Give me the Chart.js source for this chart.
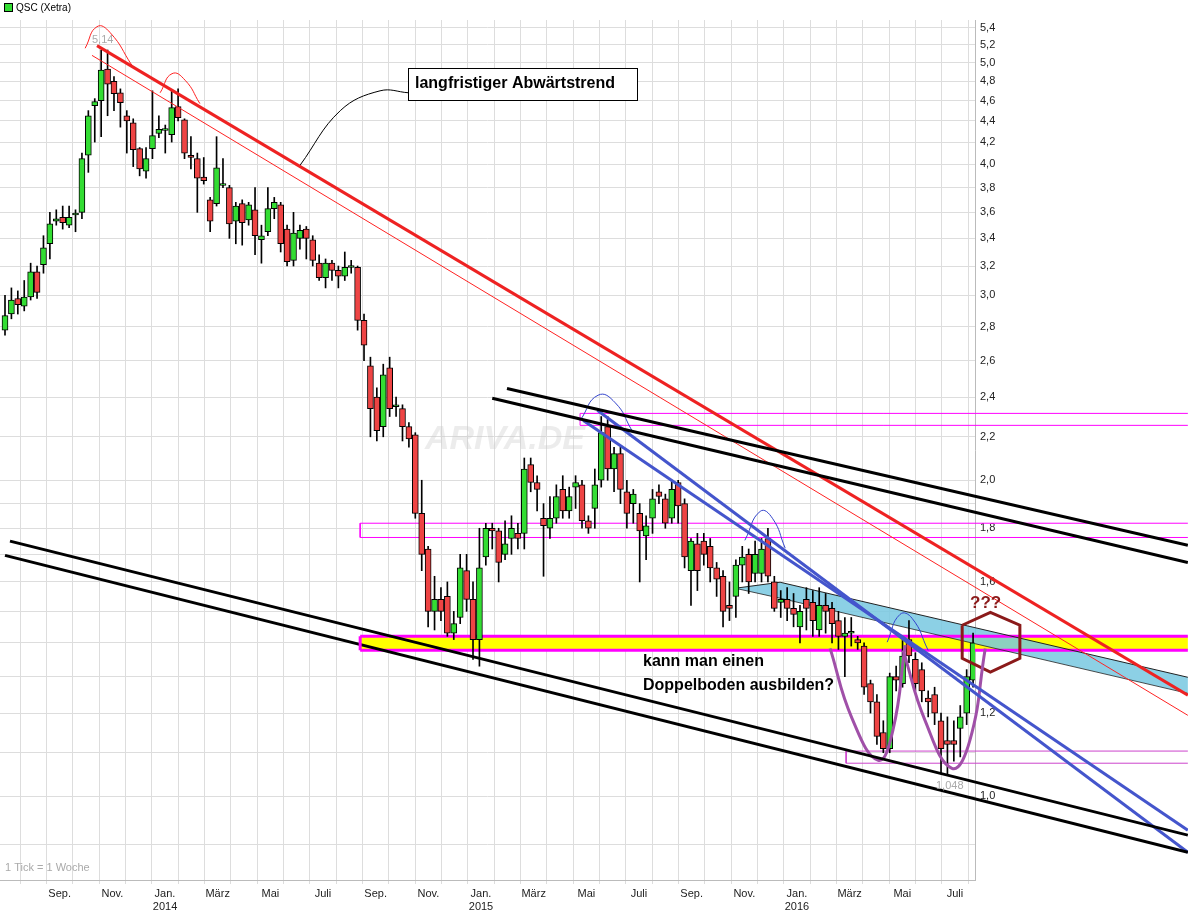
<!DOCTYPE html>
<html><head><meta charset="utf-8">
<script src="https://cdn.jsdelivr.net/npm/chart.js@4.4.0/dist/chart.umd.min.js"></script>
<style>html,body{margin:0;padding:0;background:#fff}#wrap{width:1188px;height:917px;position:relative}</style>
</head><body><div id="wrap"><canvas id="c" width="1188" height="917"></canvas></div>
<script>
// weekly candles QSC (Xetra), Jul 2013 - Jul 2016
const opens = [2.78,2.88,2.98,2.93,2.99,3.16,3.21,3.36,3.53,3.56,3.50,3.58,3.60,4.08,4.55,4.60,4.93,4.80,4.68,4.45,4.38,4.14,3.94,4.14,4.28,4.31,4.27,4.54,4.41,4.08,4.05,3.89,3.70,3.67,3.82,3.80,3.53,3.67,3.54,3.62,3.39,3.45,3.63,3.66,3.47,3.24,3.40,3.47,3.39,3.22,3.12,3.22,3.17,3.13,3.19,3.19,2.84,2.57,2.40,2.25,2.56,2.35,2.34,2.25,2.21,1.86,1.72,1.50,1.54,1.55,1.43,1.48,1.64,1.54,1.41,1.69,1.80,1.79,1.70,1.76,1.78,1.78,2.07,1.99,1.84,1.80,1.84,1.96,1.87,1.97,1.98,1.83,1.88,2.00,2.25,2.05,2.12,1.95,1.90,1.86,1.77,1.84,1.95,1.92,1.84,1.99,1.90,1.64,1.74,1.75,1.73,1.65,1.62,1.52,1.55,1.66,1.70,1.63,1.63,1.76,1.60,1.53,1.54,1.51,1.45,1.54,1.53,1.44,1.52,1.51,1.47,1.42,1.43,1.41,1.39,1.28,1.23,1.15,1.11,1.30,1.28,1.41,1.35,1.32,1.24,1.25,1.18,1.13,1.13,1.16,1.20,1.29];
const closes = [2.87,2.97,2.94,2.99,3.16,3.02,3.33,3.51,3.55,3.52,3.56,3.58,4.05,4.45,4.59,4.92,4.77,4.67,4.58,4.40,4.13,3.96,4.05,4.26,4.32,4.31,4.53,4.43,4.10,4.06,3.88,3.86,3.53,3.97,3.82,3.51,3.65,3.52,3.66,3.42,3.42,3.63,3.68,3.36,3.23,3.44,3.46,3.40,3.24,3.12,3.22,3.17,3.13,3.19,3.19,2.84,2.69,2.34,2.23,2.52,2.34,2.36,2.25,2.19,1.86,1.70,1.50,1.54,1.50,1.43,1.46,1.65,1.54,1.41,1.65,1.80,1.79,1.67,1.74,1.80,1.76,2.05,1.99,1.96,1.81,1.84,1.93,1.87,1.93,1.99,1.83,1.80,1.98,2.22,2.05,2.12,1.96,1.86,1.94,1.79,1.81,1.92,1.93,1.82,1.96,1.89,1.69,1.75,1.64,1.70,1.65,1.61,1.50,1.51,1.66,1.69,1.60,1.70,1.72,1.62,1.51,1.54,1.51,1.49,1.50,1.51,1.47,1.52,1.50,1.46,1.42,1.43,1.43,1.40,1.27,1.23,1.14,1.11,1.30,1.29,1.36,1.36,1.28,1.26,1.23,1.20,1.11,1.12,1.12,1.19,1.30,1.40];
const highs = [3.00,3.05,3.03,3.10,3.22,3.20,3.42,3.60,3.62,3.65,3.65,3.62,4.10,4.50,4.62,5.14,5.14,4.85,4.72,4.50,4.42,4.15,4.15,4.70,4.45,4.36,4.70,4.72,4.42,4.25,4.10,4.06,3.72,4.25,4.05,3.82,3.68,3.70,3.68,3.80,3.50,3.80,3.72,3.68,3.50,3.60,3.50,3.49,3.42,3.28,3.25,3.24,3.20,3.30,3.24,3.20,2.88,2.62,2.45,2.58,2.62,2.40,2.36,2.27,2.22,2.00,1.73,1.62,1.58,1.60,1.50,1.70,1.70,1.60,1.80,1.82,1.82,1.80,1.83,1.85,1.82,2.10,2.10,2.02,1.90,1.93,1.98,2.02,1.97,2.02,2.00,1.85,2.05,2.30,2.30,2.15,2.15,2.00,1.96,1.90,1.85,1.96,1.98,1.94,2.00,2.00,1.92,1.76,1.78,1.78,1.76,1.67,1.64,1.60,1.68,1.73,1.72,1.75,1.76,1.80,1.62,1.57,1.58,1.56,1.52,1.58,1.57,1.58,1.56,1.53,1.50,1.48,1.48,1.42,1.40,1.29,1.25,1.18,1.31,1.33,1.41,1.47,1.37,1.34,1.26,1.27,1.20,1.19,1.18,1.22,1.32,1.43];
const lows = [2.75,2.85,2.88,2.90,2.97,2.98,3.15,3.25,3.50,3.47,3.48,3.45,3.55,3.93,4.20,4.25,4.45,4.50,4.34,4.10,3.98,3.90,3.88,4.05,4.24,4.10,4.20,4.40,4.05,3.96,3.60,3.83,3.45,3.65,3.80,3.40,3.36,3.35,3.50,3.28,3.22,3.42,3.55,3.30,3.20,3.20,3.32,3.25,3.20,3.10,3.05,3.10,3.05,3.10,3.15,2.78,2.60,2.20,2.18,2.20,2.30,2.30,2.18,2.15,1.84,1.64,1.45,1.44,1.47,1.42,1.41,1.46,1.50,1.35,1.33,1.66,1.72,1.60,1.68,1.70,1.72,1.72,1.95,1.87,1.62,1.76,1.82,1.84,1.84,1.88,1.80,1.78,1.80,1.97,2.00,1.95,1.90,1.80,1.82,1.60,1.68,1.78,1.90,1.80,1.82,1.82,1.65,1.52,1.57,1.66,1.60,1.55,1.45,1.47,1.48,1.60,1.56,1.60,1.60,1.60,1.50,1.48,1.47,1.45,1.40,1.44,1.42,1.42,1.43,1.40,1.38,1.30,1.39,1.38,1.25,1.20,1.12,1.10,1.10,1.26,1.27,1.34,1.26,1.23,1.19,1.17,1.05,1.048,1.08,1.09,1.17,1.27];

// y axis tick values
const yTickValues = [0.9,1.0,1.1,1.2,1.3,1.4,1.5,1.6,1.7,1.8,1.9,2.0,2.2,2.4,2.6,2.8,3.0,3.2,3.4,3.6,3.8,4.0,4.2,4.4,4.6,4.8,5.0,5.2,5.4];
// months from Jan 2014 (negative = 2013)
const monthOffsets = [-6,-5,-4,-3,-2,-1,0,1,2,3,4,5,6,7,8,9,10,11,12,13,14,15,16,17,18,19,20,21,22,23,24,25,26,27,28,29,30];
const monthNames = ["Jan.","Feb.","März","Apr.","Mai","Juni","Juli","Aug.","Sep.","Okt.","Nov.","Dez."];

// drawn annotations (x = week index, y = price)
const redThick = [[14.35,5.19],[184.5,1.248]];
const redThin = [[13.57,5.08],[184.5,1.194]];
const redArc1 = [[12.5,5.16],[14.35,5.41],[16.4,5.34],[19.8,4.97]];
const redArc2 = [[24.2,4.68],[26.05,4.88],[28.1,4.81],[30.4,4.57]];
const blueArc1 = [[89.7,2.28],[92.5,2.41],[95.2,2.37],[97.8,2.23]];
const blueArc2 = [[115.4,1.753],[117.8,1.868],[119.7,1.84],[121.7,1.723]];
const blueArc3 = [[137.6,1.402],[139.6,1.49],[141.5,1.477],[144.0,1.377]];
const blackA = [[78.3,2.446],[184.5,1.734]];
const blackB = [[76.0,2.394],[184.5,1.67]];
const blackC = [[0.78,1.75],[184.5,0.918]];
const blackD = [[0,1.696],[184.5,0.884]];
const blueE = [[92.4,2.332],[184.5,0.884]];
const blueF = [[90.2,2.28],[184.5,0.928]];
const cyanPoly = [[113.9,1.578],[120.9,1.599],[184.5,1.298],[184.5,1.253],[120.9,1.544]];
const cyanTop = [[113.9,1.578],[120.9,1.599],[184.5,1.298]];
const cyanBottom = [[113.9,1.578],[120.9,1.544],[184.5,1.253]];
const yellowPoly = [[55.4,1.42],[184.5,1.42],[184.5,1.377],[55.4,1.377]];
const yellowTop = [[55.4,1.42],[184.5,1.42]];
const yellowBottom = [[55.4,1.377],[184.5,1.377]];
const yellowLeft = [[55.4,1.42],[55.4,1.377]];
const rect1 = [[184.5,1.82],[55.4,1.82],[55.4,1.764],[184.5,1.764]];
const rect2 = [[184.5,2.256],[89.7,2.256],[89.7,2.316],[184.5,2.316]];
const rect3 = [[184.5,1.104],[131.2,1.104],[131.2,1.075],[184.5,1.075]];
const purpleU1 = [[128.7,1.383],[132.1,1.187],[136.2,1.082],[138.5,1.156],[140.4,1.393]];
const purpleU2 = [[140.1,1.377],[143.5,1.181],[147.7,1.063],[150.5,1.13],[152.9,1.383]];
const hexagon = [[149.3,1.455],[153.7,1.497],[158.3,1.455],[158.3,1.353],[153.7,1.313],[149.3,1.353],[149.3,1.455]];
const connector = [[46.0,3.99],[52.3,4.5],[58.5,4.7],[62.9,4.68]];

const PXW = 151/968; // week index per pixel
const monthIdx = m => (160 + m*26.33) * PXW;
const pts = a => a.map(p => ({x:p[0], y:p[1]}));
function line(data, color, width, extra){
  return Object.assign({type:'line', data:pts(data), borderColor:color, borderWidth:width,
    pointRadius:0, fill:false, clip:false, order:1, tension:0}, extra||{});
}
const idx = opens.map((_,i)=>i);
const up = opens.map((o,i)=>closes[i]>=o);
const datasets = [
  {type:'bar', data: idx.map(i=>({x:i, y:[lows[i],highs[i]]})), backgroundColor:'#000', barThickness:1, order:10, grouped:false},
  {type:'bar', data: idx.map(i=>({x:i, y:[opens[i], closes[i]===opens[i]?opens[i]*1.004:closes[i]]})),
    backgroundColor: idx.map(i=>up[i]?'#33dd33':'#ee4444'), borderColor:'#000', borderWidth:1, borderSkipped:false,
    barThickness:6, order:9, grouped:false},
  line(cyanTop,'#222',1,{order:20}),
  line(cyanBottom,'#222',0.8,{order:20}),
  line(yellowTop,'#ff00ff',3,{order:21}),
  line(yellowBottom,'#ff00ff',3,{order:21}),
  line(yellowLeft,'#ff00ff',3,{order:1}),
  line(rect1,'#ff00ff',1,{order:15}),
  line(rect2,'#ff00ff',1,{order:15}),
  line(rect3,'#cc44cc',1,{order:15}),
  line(blackA,'#000',3), line(blackB,'#000',3), line(blackC,'#000',3), line(blackD,'#000',3),
  line(blueE,'#4455cc',3), line(blueF,'#4455cc',3),
  line(redThin,'#ff2222',1), line(redThick,'#ee2222',3),
  line(redArc1,'#ff2222',1,{tension:0.5}), line(redArc2,'#ff2222',1,{tension:0.5}),
  line(blueArc1,'#3344cc',1,{tension:0.5}), line(blueArc2,'#3344cc',1,{tension:0.5}), line(blueArc3,'#3344cc',1,{tension:0.5}),
  line(purpleU1,'#a050a8',3,{tension:0.45}), line(purpleU2,'#a050a8',3,{tension:0.45}),
  line(hexagon,'#8b1a1a',3),
  line(connector,'#000',1,{tension:0.4})
];

const fillPlugin = {
  id:'fills',
  beforeDatasetsDraw(chart){
    const g = chart.ctx, xs = chart.scales.x, ys = chart.scales.y;
    const poly = (a, col) => { g.beginPath(); a.forEach((p,i)=>{ const X=xs.getPixelForValue(p[0]), Y=ys.getPixelForValue(p[1]); i?g.lineTo(X,Y):g.moveTo(X,Y); }); g.closePath(); g.fillStyle=col; g.fill(); };
    g.save(); poly(yellowPoly,'#ffff00'); poly(cyanPoly,'rgba(120,200,225,0.85)'); g.restore();
  }
};

const textPlugin = {
  id:'texts',
  afterDatasetsDraw(chart){
    const g = chart.ctx; g.save();
    g.fillStyle='#33dd33'; g.fillRect(4,3,8,8); g.strokeStyle='#000'; g.lineWidth=1; g.strokeRect(4.5,3.5,8,8);
    g.fillStyle='#000'; g.font='10px "Liberation Sans", Arial'; g.textBaseline='middle'; g.fillText('QSC (Xetra)',16,8);
    g.font='italic bold 34px "Liberation Sans", Arial'; g.fillStyle='rgba(200,200,200,0.35)'; g.fillText('ARIVA.DE',425,440);
    g.font='11px "Liberation Sans", Arial'; g.fillStyle='#aaa';
    g.fillText('5,14',92,40); g.fillText('1,048',936,786);
    g.fillText('1 Tick = 1 Woche',5,868);
    g.fillStyle='#fff'; g.fillRect(408,68,229,32); g.strokeStyle='#000'; g.strokeRect(408.5,68.5,229,32);
    g.fillStyle='#000'; g.font='bold 16px "Liberation Sans", Arial'; g.fillText('langfristiger Abwärtstrend',415,84);
    g.fillText('kann man einen',643,662); g.fillText('Doppelboden ausbilden?',643,686);
    g.fillStyle='#8b1a1a'; g.font='bold 17px "Liberation Sans", Arial'; g.fillText('???',970,603);
    g.restore();
  }
};

new Chart(document.getElementById('c'), {
  data:{datasets},
  options:{
    responsive:false, animation:false,
    layout:{padding:{top:20,left:0,right:0,bottom:0}},
    plugins:{legend:{display:false}, tooltip:{enabled:false}},
    scales:{
      x:{type:'linear', min:-0.78, max:151.3, offset:false,
        afterBuildTicks: s => { s.ticks = monthOffsets.map(m=>({value:monthIdx(m), m})); },
        afterFit: s => { s.height = 37; },
        grid:{color:'#dddddd', drawTicks:true, tickLength:4},
        border:{color:'#bbb'},
        ticks:{autoSkip:false, maxRotation:0, color:'#222', font:{size:11, family:'"Liberation Sans", Arial'},
          callback:(v,i,t)=>{ const m=t[i].m; if(m<-5) return ''; const mi=((m%12)+12)%12; if(mi%2!==0) return ''; const n=monthNames[mi];
            return mi===0 ? [n, String(2014+Math.floor(m/12))] : n; }}},
      y:{type:'logarithmic', position:'right', min:0.832, max:5.49,
        afterBuildTicks: s => { s.ticks = yTickValues.map(v=>({value:v})); },
        afterFit: s => { s.width = 213; },
        grid:{color:'#dddddd', drawTicks:false},
        border:{color:'#bbb'},
        ticks:{padding:5, color:'#222', font:{size:11, family:'"Liberation Sans", Arial'},
          callback:v=>{ const r=Math.round(v*10); return (r%2===0 && r>=10) ? (r/10).toFixed(1).replace('.',',') : ''; }}}
    }
  },
  plugins:[fillPlugin, textPlugin]
});
</script></body></html>
